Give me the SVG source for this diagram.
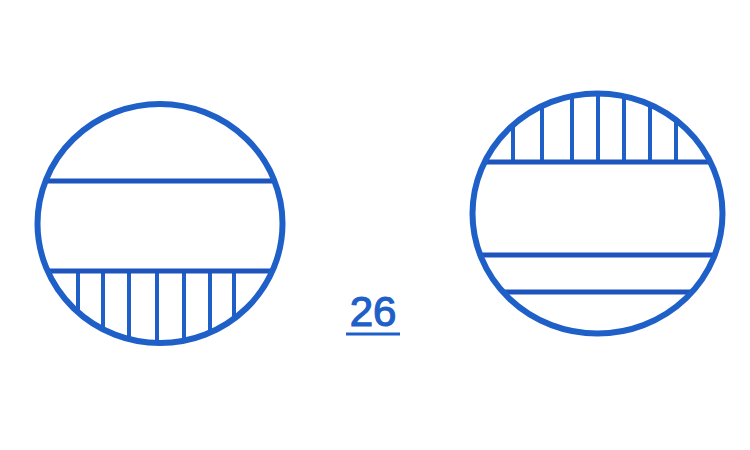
<svg xmlns="http://www.w3.org/2000/svg" width="750" height="450" viewBox="0 0 750 450">
<style>
.c{fill:none;stroke:#1f5fc8;stroke-width:6}
.l{stroke:#1d55bd;stroke-width:5;fill:none}
.h{stroke:#1f5fc8;stroke-width:4}
.t{font-family:"Liberation Sans",Arial,sans-serif;font-size:42px;fill:#1f5fc8;stroke:#1f5fc8;stroke-width:1.2}
</style>
<defs>
<clipPath id="cl"><ellipse cx="160" cy="223.5" rx="122.5" ry="119.5"/></clipPath>
<clipPath id="cr"><ellipse cx="597.5" cy="213.5" rx="125" ry="120"/></clipPath>
</defs>
<rect width="750" height="450" fill="#ffffff"/>
<g id="left">
<g clip-path="url(#cl)" class="h">
<line x1="78" y1="271" x2="78" y2="350"/>
<line x1="103" y1="271" x2="103" y2="350"/>
<line x1="129" y1="271" x2="129" y2="350"/>
<line x1="157" y1="271" x2="157" y2="350"/>
<line x1="184" y1="271" x2="184" y2="350"/>
<line x1="210" y1="271" x2="210" y2="350"/>
<line x1="234" y1="271" x2="234" y2="350"/>
</g>
<line class="l" x1="46" y1="181" x2="274" y2="181"/>
<line class="l" x1="48" y1="271" x2="272" y2="271"/>
<ellipse class="c" cx="160" cy="223.5" rx="122.5" ry="119.5"/>
</g>
<g id="right">
<g clip-path="url(#cr)" class="h">
<line x1="513" y1="85" x2="513" y2="162"/>
<line x1="542" y1="85" x2="542" y2="162"/>
<line x1="572" y1="85" x2="572" y2="162"/>
<line x1="598" y1="85" x2="598" y2="162"/>
<line x1="624" y1="85" x2="624" y2="162"/>
<line x1="650" y1="85" x2="650" y2="162"/>
<line x1="676" y1="85" x2="676" y2="162"/>
</g>
<line class="l" x1="486" y1="162" x2="709" y2="162"/>
<line class="l" x1="481" y1="255" x2="714" y2="255"/>
<line class="l" x1="504" y1="292" x2="691" y2="292"/>
<ellipse class="c" cx="597.5" cy="213.5" rx="125" ry="120"/>
</g>
<g id="label">
<text class="t" x="373" y="326" text-anchor="middle">26</text>
<line x1="346" y1="334" x2="400" y2="334" stroke="#1f5fc8" stroke-width="3"/>
</g>
</svg>
